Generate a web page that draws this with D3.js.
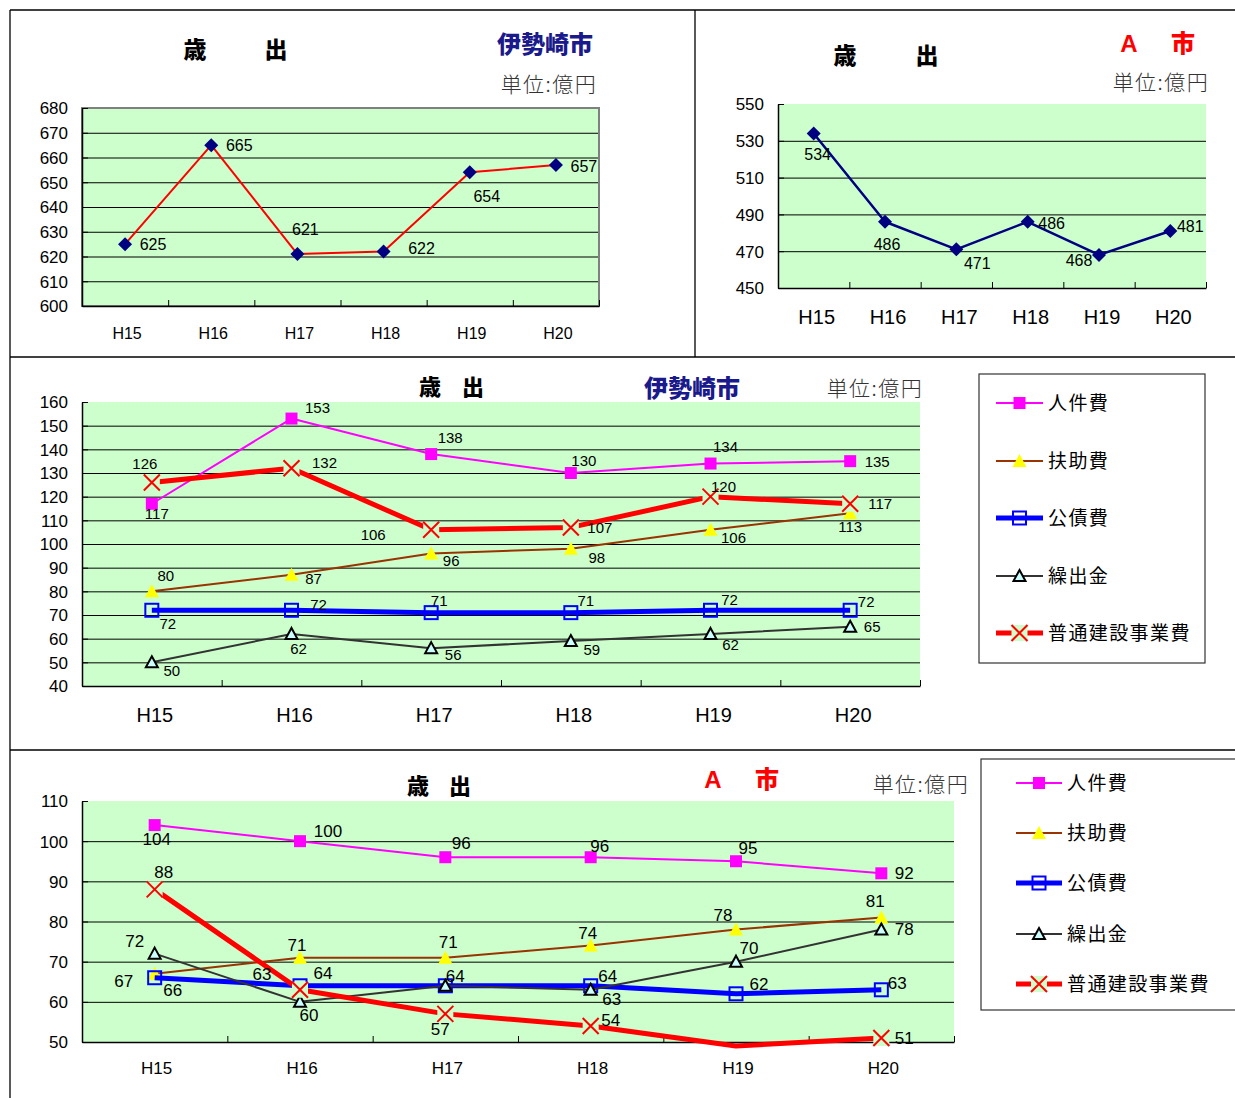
<!DOCTYPE html>
<html>
<head>
<meta charset="utf-8">
<script src="https://cdn.jsdelivr.net/npm/d3@7"></script>
<style>
  body { margin: 0; background: #fff; }
  svg { display: block; }
</style>
</head>
<body>
<svg id="c" width="1235" height="1098"></svg>
<script>
// ---- data -------------------------------------------------------------
const years = ["H15", "H16", "H17", "H18", "H19", "H20"];

// 歳出総額 (億円)
const isesakiTotal = [625, 665, 621, 622, 654, 657];
const aCityTotal = [534, 486, 471, 486, 468, 481];
const isesakiTotalTicks = [600, 610, 620, 630, 640, 650, 660, 670, 680];
const aCityTotalTicks = [450, 470, 490, 510, 530, 550];

// 性質別内訳 (億円)
const seriesNames = ["人件費", "扶助費", "公債費", "繰出金", "普通建設事業費"];
const isesakiPersonnel = [117, 153, 138, 130, 134, 135];
const isesakiAssistance = [80, 87, 96, 98, 106, 113];
const isesakiDebt = [72, 72, 71, 71, 72, 72];
const isesakiTransfer = [50, 62, 56, 59, 62, 65];
const isesakiConstruction = [126, 132, 106, 107, 120, 117];
const isesakiBreakdownTicks = [40, 50, 60, 70, 80, 90, 100, 110, 120, 130, 140, 150, 160];

const aCityPersonnel = [104, 100, 96, 96, 95, 92];
const aCityAssistance = [67, 71, 71, 74, 78, 81];
const aCityDebt = [66, 64, 64, 64, 62, 63];
const aCityTransfer = [72, 60, 64, 63, 70, 78];
const aCityConstruction = [88, 63, 57, 54, 49, 51];
const aCityBreakdownTicks = [50, 60, 70, 80, 90, 100, 110];

// ---- label placement (offset of each value label from its point) --------
const isesakiTotalLabelOff = [[28, 0], [28, 0], [8, -25], [38, -3], [17, 24], [28, 1]];
const aCityTotalLabelOff = [[4, 21], [2, 23], [21, 14], [24, 2], [-20, 6], [20, -5]];

const isesakiLabelOff = [
  [[5, 10], [26, -11], [19, -16], [13, -12], [15, -17], [27, 1]],
  [[14, -16], [22, 4], [20, 7], [26, 9], [23, 8], [0, 14]],
  [[16, 13], [27, -6], [8, -12], [15, -12], [19, -11], [16, -9]],
  [[20, 8], [7, 15], [22, 7], [21, 9], [20, 11], [22, 0]],
  [[-7, -19], [33, -6], [-58, 5], [29, 0], [13, -10], [30, 0]]
];
const aCityLabelOff = [
  [[2, 14], [28, -10], [16, -14], [9, -11], [12, -13], [23, 0]],
  [[-31, 7], [-3, -13], [3, -16], [-3, -13], [-13, -14], [-6, -16]],
  [[18, 12], [23, -13], [10, -10], [17, -10], [23, -10], [16, -7]],
  [[-20, -13], [9, 13], [10, -10], [21, 9], [13, -14], [23, 0]],
  [[9, -17], [-38, -16], [-5, 15], [20, -6], [0, 0], [23, 0]]
];

// ---- styles -------------------------------------------------------------
const PLOT_BG = "#CCFFCC";
const NUM_FONT = "'Liberation Sans', Arial, sans-serif";
const JP_FONT = "'Noto Sans CJK JP', 'Noto Sans', sans-serif";

const seriesStyle = [
  { color: "#FF00FF", width: 2, marker: "square" },
  { color: "#993300", width: 2, marker: "triangle" },
  { color: "#0000FF", width: 5, marker: "hollowSquare" },
  { color: "#333333", width: 2, marker: "hollowTriangle" },
  { color: "#FF0000", width: 5, marker: "cross" }
];

const svg = d3.select("#c");

function drawMarker(g, type, x, y) {
  const m = g.append("g").attr("transform", `translate(${x},${y})`);
  switch (type) {
    case "diamond":
      m.append("path").attr("d", "M0,-7L7,0L0,7L-7,0Z").attr("fill", "#000080");
      break;
    case "square":
      m.append("rect").attr("x", -6).attr("y", -6).attr("width", 12).attr("height", 12).attr("fill", "#FF00FF");
      break;
    case "triangle":
      m.append("path").attr("d", "M0,-7L7,6L-7,6Z").attr("fill", "#FFFF00");
      break;
    case "hollowSquare":
      m.append("rect").attr("x", -6.5).attr("y", -6.5).attr("width", 13).attr("height", 13)
        .attr("fill", "none").attr("stroke", "#0000FF").attr("stroke-width", 2);
      break;
    case "hollowTriangle":
      m.append("path").attr("d", "M0,-6L6,5L-6,5Z").attr("fill", "#CCFFFF")
        .attr("stroke", "#000").attr("stroke-width", 2).attr("stroke-linejoin", "miter");
      break;
    case "cross":
      m.append("rect").attr("x", -8).attr("y", -8).attr("width", 16).attr("height", 16).attr("fill", PLOT_BG);
      m.append("path").attr("d", "M-8,-8L8,8M8,-8L-8,8").attr("stroke", "#FF0000").attr("stroke-width", 2);
      break;
  }
}

// Generic line chart: plot area, axes, gridlines, series and value labels
function drawChart(cfg) {
  const g = svg.append("g");
  const x = d3.scaleBand().domain(years).range([cfg.left, cfg.right]);
  const xEdge = d3.scaleLinear().domain([0, years.length]).range([cfg.left, cfg.right]);
  const yMin = cfg.ticks[0], yMax = cfg.ticks[cfg.ticks.length - 1];
  const y = d3.scaleLinear().domain([yMin, yMax]).range([cfg.bottom, cfg.top]);
  const cx = d => x(d) + x.bandwidth() / 2;
  const w = cfg.right - cfg.left;

  g.append("rect").attr("x", cfg.left).attr("y", cfg.top).attr("width", w)
    .attr("height", cfg.bottom - cfg.top).attr("fill", PLOT_BG);

  // horizontal gridlines
  const grid = g.append("g").attr("transform", `translate(${cfg.left},0)`)
    .call(d3.axisLeft(y).tickValues(cfg.ticks.slice(1, -1)).tickSize(-w).tickFormat(""));
  grid.select(".domain").remove();
  grid.selectAll("line").attr("stroke", "#000").attr("stroke-width", 1);

  if (cfg.frame) {
    g.append("rect").attr("x", cfg.left).attr("y", cfg.top).attr("width", w)
      .attr("height", cfg.bottom - cfg.top).attr("fill", "none")
      .attr("stroke", "#808080").attr("stroke-width", 2);
  }

  // value axis
  const ya = g.append("g").attr("transform", `translate(${cfg.left},0)`)
    .call(d3.axisLeft(y).tickValues(cfg.ticks).tickSizeInner(-6).tickSizeOuter(0).tickPadding(14));
  ya.select(".domain").attr("stroke", "#000").attr("stroke-width", 1.5);
  ya.selectAll("line").attr("stroke", "#000");
  ya.selectAll("text").attr("font-family", NUM_FONT).attr("font-size", cfg.tickFont)
    .attr("fill", "#000").attr("dy", "0.35em");

  // category axis: tick marks on category boundaries
  const xa = g.append("g").attr("transform", `translate(0,${cfg.bottom})`)
    .call(d3.axisBottom(xEdge).tickValues(d3.range(1, years.length + 1)).tickSizeInner(-6).tickSizeOuter(0).tickFormat(""));
  xa.select(".domain").attr("stroke", "#000").attr("stroke-width", 1.5);
  xa.selectAll("line").attr("stroke", "#000");

  const xl = g.append("g").attr("transform", `translate(${cfg.catDx || 0},${cfg.catY})`)
    .call(d3.axisBottom(x).tickSize(0).tickPadding(0));
  xl.select(".domain").remove();
  xl.selectAll("text").attr("font-family", NUM_FONT).attr("font-size", cfg.catFont)
    .attr("fill", "#000").attr("y", 0).attr("dy", "0.35em");

  // series
  cfg.series.forEach(s => {
    const pts = years.map((yr, i) => ({ x: cx(yr), y: y(s.values[i]), v: s.values[i], off: s.offsets[i] }));
    g.append("path").datum(pts)
      .attr("d", d3.line().x(d => d.x).y(d => d.y))
      .attr("fill", "none").attr("stroke", s.style.color).attr("stroke-width", s.style.width)
      .attr("stroke-linejoin", "round");
    const shown = pts.filter(p => p.v >= yMin && p.v <= yMax);
    shown.forEach(p => drawMarker(g, s.style.marker, p.x, p.y));
    s.labelLayer = shown;
  });
  // value labels drawn on top of all series; identical labels that land on
  // the same spot are written once
  const placed = new Set();
  cfg.series.forEach(s => {
    s.labelLayer.forEach(p => {
      const lx = Math.round(p.x + p.off[0]), ly = Math.round(p.y + p.off[1]);
      const key = `${lx},${ly},${p.v}`;
      if (placed.has(key)) return;
      placed.add(key);
      g.append("text").attr("x", p.x + p.off[0]).attr("y", p.y + p.off[1])
        .attr("text-anchor", "middle").attr("dy", "0.35em")
        .attr("font-family", NUM_FONT).attr("font-size", cfg.labelFont).attr("fill", "#000")
        .text(p.v);
    });
  });
}

function title(x1, x2, y, size) {
  [["歳", x1], ["出", x2]].forEach(([t, x]) => {
    svg.append("text").attr("x", x).attr("y", y).attr("text-anchor", "middle").attr("dy", "0.35em")
      .attr("font-family", JP_FONT).attr("font-weight", 900).attr("font-size", size).attr("fill", "#000").text(t);
  });
}
function isesakiName(x, y) {
  svg.append("text").attr("x", x).attr("y", y).attr("text-anchor", "middle").attr("dy", "0.35em")
    .attr("font-family", JP_FONT).attr("font-weight", 900).attr("font-size", 24).attr("fill", "#1A1A8C").text("伊勢崎市");
}
function aCityName(xA, xShi, y) {
  svg.append("text").attr("x", xA).attr("y", y).attr("text-anchor", "middle").attr("dy", "0.35em")
    .attr("font-family", NUM_FONT).attr("font-weight", 700).attr("font-size", 24).attr("fill", "#FF0000").text("A");
  svg.append("text").attr("x", xShi).attr("y", y).attr("text-anchor", "middle").attr("dy", "0.35em")
    .attr("font-family", JP_FONT).attr("font-weight", 900).attr("font-size", 24).attr("fill", "#FF0000").text("市");
}
function unit(x, y) {
  svg.append("text").attr("x", x).attr("y", y).attr("text-anchor", "middle").attr("dy", "0.35em")
    .attr("font-family", JP_FONT).attr("font-weight", 300).attr("font-size", 21)
    .attr("letter-spacing", 1.5).attr("fill", "#333").text("単位:億円");
}

function drawLegend(box, rowY, lineX0, lineX1, textX) {
  svg.append("rect").attr("x", box[0]).attr("y", box[1]).attr("width", box[2]).attr("height", box[3])
    .attr("fill", "#fff").attr("stroke", "#333").attr("stroke-width", 1.2);
  seriesNames.forEach((name, i) => {
    const st = seriesStyle[i];
    const g = svg.append("g");
    g.append("line").attr("x1", lineX0).attr("x2", lineX1).attr("y1", rowY[i]).attr("y2", rowY[i])
      .attr("stroke", st.color).attr("stroke-width", st.width);
    drawMarker(g, st.marker, (lineX0 + lineX1) / 2, rowY[i]);
    svg.append("text").attr("x", textX).attr("y", rowY[i]).attr("dy", "0.35em")
      .attr("font-family", JP_FONT).attr("font-size", 19).attr("letter-spacing", 1.4)
      .attr("fill", "#000").text(name);
  });
}

// ---- panel frame ----------------------------------------------------------
const frame = [[10, 10, 1235, 10], [10, 10, 10, 1098], [695, 10, 695, 357], [10, 357, 1235, 357], [10, 750, 1235, 750]];
frame.forEach(([a, b, c, d]) => svg.append("line").attr("x1", a).attr("y1", b).attr("x2", c).attr("y2", d)
  .attr("stroke", "#000").attr("stroke-width", 1.3));

// ---- top-left: 伊勢崎市 歳出 ----------------------------------------------
drawChart({
  left: 82, right: 599, top: 108, bottom: 306, ticks: isesakiTotalTicks, frame: true,
  tickFont: 17, catFont: 16, catY: 333, catDx: 2, labelFont: 16,
  series: [{ values: isesakiTotal, offsets: isesakiTotalLabelOff, style: { color: "#FF0000", width: 2, marker: "diamond" } }]
});
title(195, 276, 50, 23);
isesakiName(545, 45);
unit(549, 85);

// ---- top-right: A市 歳出 ---------------------------------------------------
drawChart({
  left: 778, right: 1206, top: 104, bottom: 288, ticks: aCityTotalTicks, frame: false,
  tickFont: 17, catFont: 20, catY: 317, catDx: 3, labelFont: 16,
  series: [{ values: aCityTotal, offsets: aCityTotalLabelOff, style: { color: "#000080", width: 2.5, marker: "diamond" } }]
});
title(845, 927, 56, 23);
aCityName(1129, 1183, 44);
unit(1161, 83);

// ---- middle: 伊勢崎市 内訳 -------------------------------------------------
const isesakiSeries = [isesakiPersonnel, isesakiAssistance, isesakiDebt, isesakiTransfer, isesakiConstruction];
drawChart({
  left: 82, right: 920, top: 402, bottom: 686, ticks: isesakiBreakdownTicks, frame: false,
  tickFont: 17, catFont: 20, catY: 715, catDx: 3, labelFont: 15,
  series: isesakiSeries.map((v, i) => ({ values: v, offsets: isesakiLabelOff[i], style: seriesStyle[i] }))
});
title(430, 473, 387, 22);
isesakiName(692, 389);
unit(875, 389);
drawLegend([979, 374, 226, 289], [403, 461, 518, 576, 633], 996, 1043, 1048);

// ---- bottom: A市 内訳 ------------------------------------------------------
const aCitySeries = [aCityPersonnel, aCityAssistance, aCityDebt, aCityTransfer, aCityConstruction];
drawChart({
  left: 82, right: 954, top: 801, bottom: 1042, ticks: aCityBreakdownTicks, frame: false,
  tickFont: 17, catFont: 17, catY: 1068, catDx: 2, labelFont: 17,
  series: aCitySeries.map((v, i) => ({ values: v, offsets: aCityLabelOff[i], style: seriesStyle[i] }))
});
title(418, 460, 786, 22);
aCityName(713, 767, 780);
unit(921, 785);
drawLegend([981, 759, 270, 251], [783, 833, 883, 934, 984], 1016, 1062, 1067);
</script>
</body>
</html>
